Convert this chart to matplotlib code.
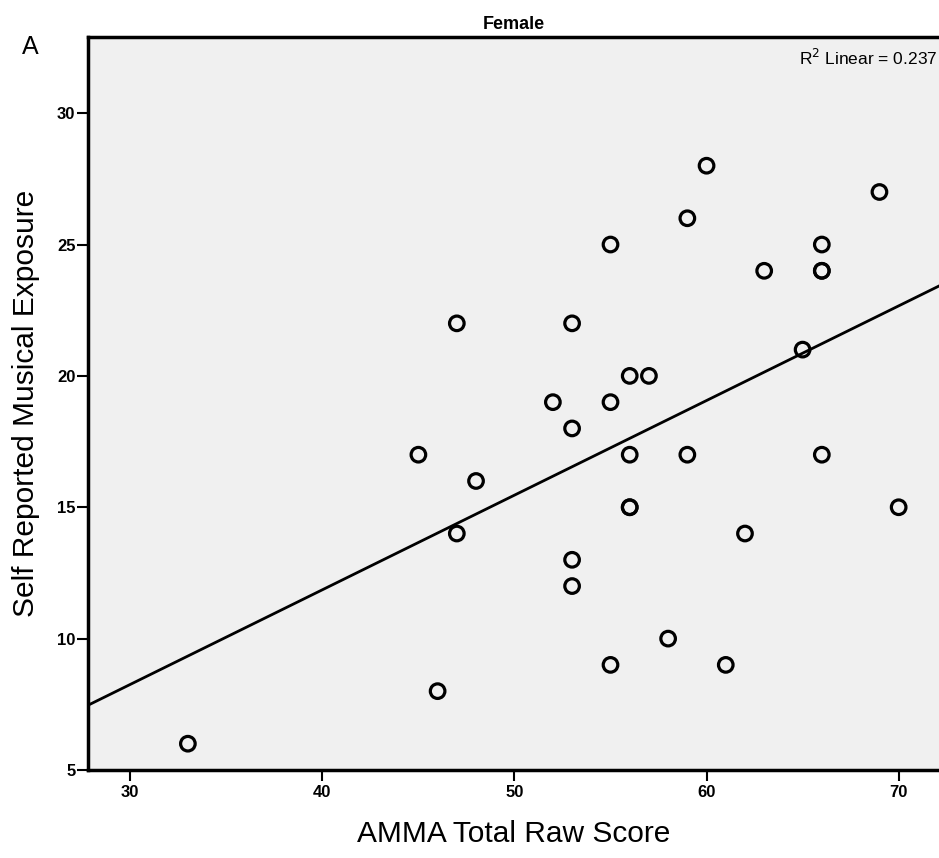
import numpy as np
import matplotlib
matplotlib.use('Agg')
import matplotlib.pyplot as plt

# AMMA score vs self reported exposure, female group
amma = [33, 46, 45, 47, 47, 48, 52, 53, 53, 53, 53, 55, 55, 55, 56, 56, 56, 56,
        57, 58, 59, 59, 60, 61, 62, 63, 65, 66, 66, 66, 66, 69, 70]
exposure = [6, 8, 17, 22, 14, 16, 19, 22, 18, 13, 12, 25, 19, 9, 20, 17, 15, 15,
            20, 10, 26, 17, 28, 9, 14, 24, 21, 25, 24, 24, 17, 27, 15]
xticks = [30, 40, 50, 60, 70]
yticks = [5, 10, 15, 20, 25, 30]
r2_text = '0.237'

fig = plt.figure(figsize=(9.39, 8.58), dpi=100)
ax = fig.add_axes([0.0937, 0.1026, 0.9063, 0.8543])
ax.set_facecolor('#f0f0f0')

ax.scatter(amma, exposure, s=110, facecolors='none', edgecolors='black', linewidths=2.3, zorder=3)

xlim = (27.8, 72.1)
k, b = np.polyfit(amma, exposure, 1)
xs = np.array(xlim)
ax.plot(xs, k * xs + b, color='black', linewidth=2, zorder=2)

ax.set_xlim(xlim)
ax.set_ylim(5, 32.9)
ax.set_xticks(xticks)
ax.set_yticks(yticks)

tick_font = {'family': 'Liberation Sans', 'weight': 'bold', 'size': 12}
ax.set_xticklabels([str(t) for t in xticks], fontdict=tick_font)
ax.set_yticklabels([str(t) for t in yticks], fontdict=tick_font)
ax.tick_params(axis='x', direction='out', length=8, width=1.5, pad=3)
ax.tick_params(axis='y', direction='out', length=8, width=1.5, pad=1)

for side in ['left', 'bottom', 'top']:
    ax.spines[side].set_linewidth(2.5)
ax.spines['right'].set_visible(False)

ax.set_xlabel('AMMA Total Raw Score', fontsize=21.5, family='Liberation Sans', labelpad=14)
ax.set_ylabel('Self Reported Musical Exposure', fontsize=21.5, family='Liberation Sans', labelpad=12)
ax.set_title('Female', fontsize=13, fontweight='bold', family='Liberation Sans', pad=6)

ax.text(0.998, 0.985, r'R$^2$ Linear = ' + r2_text, transform=ax.transAxes, ha='right', va='top',
        fontsize=12.5, family='Liberation Sans')
fig.text(0.032, 0.945, 'A', fontsize=18, family='Liberation Sans', ha='center', va='center')

fig.savefig('out.png', dpi=100, facecolor='white')
